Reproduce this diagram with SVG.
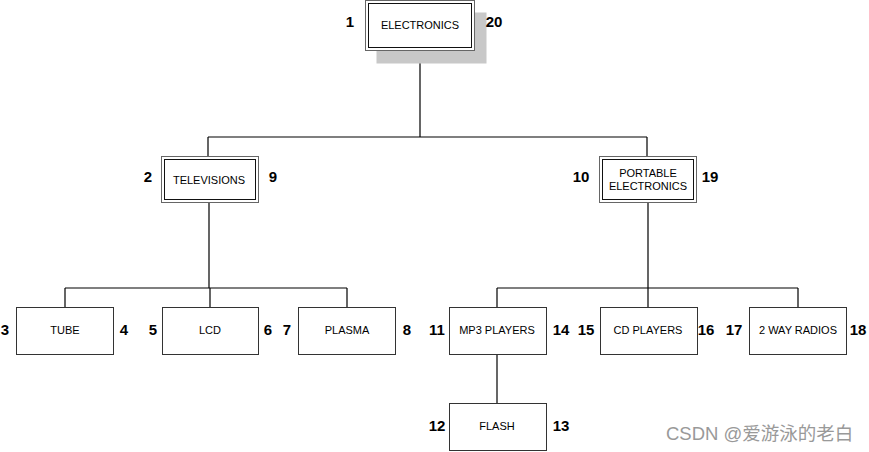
<svg xmlns="http://www.w3.org/2000/svg" width="869" height="452" viewBox="0 0 869 452">
<style>
.box{fill:#fff;stroke:#333;stroke-width:1}
.dbl-o{fill:#fff;stroke:#666;stroke-width:1}
.dbl-i{fill:none;stroke:#111;stroke-width:1}
.lbl{font-family:"Liberation Sans",Arial,sans-serif;font-size:11px;fill:#000;text-anchor:middle}
.num{font-family:"Liberation Sans",Arial,sans-serif;font-size:15px;font-weight:bold;fill:#000;text-anchor:middle}
.conn{fill:none;stroke:#000;stroke-width:1.2}
.wm{font-family:"Liberation Sans","Noto Sans CJK SC",sans-serif;font-size:18.5px;fill:#999}
</style>
<rect width="869" height="452" fill="#fff"/>
<g id="connectors">
<path class="conn" d="M420,50 V137 M208,137 H647 M208,137 V156 M647,137 V156"/>
<path class="conn" d="M209,203 V288 M65,288 H347 M65,288 V307 M210,288 V307 M347,288 V307"/>
<path class="conn" d="M648,203 V288 M497,288 H798 M497,288 V307 M648,288 V307 M798,288 V307"/>
<path class="conn" d="M497,355 V403"/>
</g>
<g id="electronics">
<rect x="376.5" y="12.5" width="110" height="51" fill="#c8c8c8"/>
<rect class="dbl-o" x="365.5" y="0.5" width="109" height="50"/>
<rect class="dbl-i" x="368.5" y="3.5" width="103" height="44"/>
<text class="lbl" x="420" y="29">ELECTRONICS</text>
<text class="num" x="350" y="27">1</text>
<text class="num" x="494" y="27">20</text>
</g>
<g id="televisions">
<rect class="dbl-o" x="161.5" y="156.5" width="97" height="46"/>
<rect class="dbl-i" x="164.5" y="159.5" width="91" height="40"/>
<text class="lbl" x="209" y="184">TELEVISIONS</text>
<text class="num" x="148" y="182">2</text>
<text class="num" x="273" y="182">9</text>
</g>
<g id="portable">
<rect class="dbl-o" x="599.5" y="156.5" width="97" height="46"/>
<rect class="dbl-i" x="602.5" y="159.5" width="91" height="40"/>
<text class="lbl" x="648" y="177">PORTABLE</text>
<text class="lbl" x="648" y="190">ELECTRONICS</text>
<text class="num" x="581" y="182">10</text>
<text class="num" x="710" y="182">19</text>
</g>
<g id="tube">
<rect class="box" x="16.5" y="307.5" width="97" height="47"/>
<text class="lbl" x="65" y="334">TUBE</text>
<text class="num" x="5" y="335">3</text>
<text class="num" x="124" y="335">4</text>
</g>
<g id="lcd">
<rect class="box" x="162.5" y="307.5" width="96" height="47"/>
<text class="lbl" x="210" y="334">LCD</text>
<text class="num" x="153" y="335">5</text>
<text class="num" x="268" y="335">6</text>
</g>
<g id="plasma">
<rect class="box" x="298.5" y="307.5" width="97" height="47"/>
<text class="lbl" x="347" y="334">PLASMA</text>
<text class="num" x="287" y="335">7</text>
<text class="num" x="407" y="335">8</text>
</g>
<g id="mp3">
<rect class="box" x="449.5" y="307.5" width="97" height="47"/>
<text class="lbl" x="497" y="334">MP3 PLAYERS</text>
<text class="num" x="437" y="335">11</text>
<text class="num" x="561" y="335">14</text>
</g>
<g id="cd">
<rect class="box" x="600.5" y="307.5" width="97" height="47"/>
<text class="lbl" x="648" y="334">CD PLAYERS</text>
<text class="num" x="586" y="335">15</text>
<text class="num" x="706" y="335">16</text>
</g>
<g id="radios">
<rect class="box" x="749.5" y="307.5" width="97" height="47"/>
<text class="lbl" x="798" y="334">2 WAY RADIOS</text>
<text class="num" x="734" y="335">17</text>
<text class="num" x="858" y="335">18</text>
</g>
<g id="flash">
<rect class="box" x="449.5" y="403.5" width="97" height="47"/>
<text class="lbl" x="497" y="430">FLASH</text>
<text class="num" x="437" y="431">12</text>
<text class="num" x="561" y="431">13</text>
</g>
<text class="wm" x="666" y="440">CSDN @爱游泳的老白</text>
</svg>
